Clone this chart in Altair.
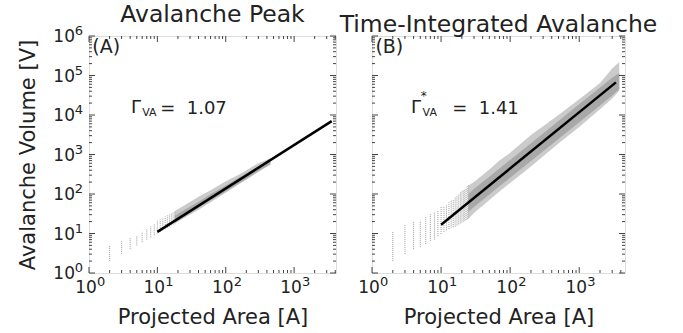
import altair as alt
import pandas as pd

# ---------------- data ----------------
# Panel A: Avalanche Peak
a_col_x = [2, 3, 4, 5, 6, 7, 8, 9, 10, 11, 12, 13, 14, 15, 16, 17, 18]
a_col_lo = [2, 3, 4, 5, 6, 7, 8, 9, 10, 11, 12, 13, 14, 15, 16, 17, 18]
a_col_hi = [5, 6.5, 8, 9, 11, 13, 15, 17, 21, 23, 25, 27, 29, 31, 33, 35, 37]
a_band_x = [18, 25, 40, 60, 100, 150, 200, 300, 450]
a_band_hi = [37, 52, 85, 125, 210, 300, 400, 600, 800]
a_band_lo = [18, 25, 40, 62, 108, 170, 230, 360, 550]
a_core_hi = [28, 40, 64, 98, 165, 250, 330, 500, 700]
a_core_lo = [19, 27, 45, 68, 115, 180, 245, 380, 570]
a_fit_x = [10, 3550]
a_fit_y = [11, 7000]

# Panel B: Time-Integrated Avalanche
b_col_x = [2, 3, 4, 5, 6, 7, 8, 9, 10, 11, 12, 13, 14, 15, 16, 17, 18, 19, 20, 21, 22, 23, 24, 25]
b_col_lo = [2, 3, 4, 4.5, 5.4, 6.5, 7, 8.6, 9.7, 11, 12, 13, 14, 14.5, 15, 16, 17, 18, 19, 20, 21, 22, 23, 24]
b_col_hi = [11, 17, 20, 21, 27, 31, 34, 37, 47, 50, 55, 62, 68, 74, 82, 90, 100, 110, 120, 128, 136, 145, 155, 165]
b_band_x = [25, 30, 50, 70, 100, 200, 300, 500, 1000, 2000, 3000, 3800]
b_band_hi = [165, 200, 420, 700, 1100, 3100, 5200, 10000, 25000, 65000, 150000, 220000]
b_band_lo = [24, 33, 70, 115, 190, 500, 900, 1900, 5000, 14000, 26000, 42000]
b_core_hi = [100, 135, 275, 440, 730, 1940, 3400, 7000, 18700, 50000, 88000, 115000]
b_core_lo = [36, 47, 97, 156, 257, 684, 1210, 2480, 6600, 17500, 31000, 45000]
b_fit_x = [10, 3400]
b_fit_y = [16.7, 67000]

# annotations (data coordinates)
a_ann_text = ["(A)", "Γ", "VA", "=\u00a0\u00a01.07"]
a_ann_x = [1.12, 4.1, 6.0, 11.0]
a_ann_y = [5.2e5, 1.5e4, 1.15e4, 1.45e4]
a_ann_size = [19, 18, 11, 18]
b_ann_text = ["(B)", "Γ", "*", "VA", "=\u00a0\u00a01.41"]
b_ann_x = [1.12, 3.67, 5.1, 5.4, 14.5]
b_ann_y = [5.2e5, 1.5e4, 3.0e4, 1.15e4, 1.45e4]
b_ann_size = [19, 18, 12, 11, 18]

# axis ticks and tick labels
x_major = [1, 10, 100, 1000]
x_minor = [2, 3, 4, 5, 6, 7, 8, 9, 20, 30, 40, 50, 60, 70, 80, 90,
           200, 300, 400, 500, 600, 700, 800, 900, 2000, 3000, 4000]
y_major = [1, 10, 100, 1000, 10000, 100000, 1000000]
y_minor = [m * d for d in [1, 10, 100, 1000, 10000, 100000] for m in [2, 3, 4, 5, 6, 7, 8, 9]]
x_tick_base = ["10", "10", "10", "10"]
x_tick_exp = ["0", "1", "2", "3"]
y_tick_base = ["10", "10", "10", "10", "10", "10", "10"]
y_tick_exp = ["0", "1", "2", "3", "4", "5", "6"]

FONT = "DejaVu Sans"
TXT = "#222222"
FRAME = "#444444"
H = 237
Y_DOM = [1, 1e6]


def panel(width, xdom, cols, band, core, fit, ann, title, title_size, show_y):
    xs = alt.Scale(type="log", domain=xdom, nice=False)
    ys = alt.Scale(type="log", domain=Y_DOM, nice=False)
    xaxis = alt.Axis(labels=False, ticks=False, domain=False, grid=False,
                     title="Projected Area [A]", titleFont=FONT, titleFontSize=21,
                     titleFontWeight="normal", titleColor=TXT, titlePadding=33)
    if show_y:
        yaxis = alt.Axis(labels=False, ticks=False, domain=False, grid=False,
                         title="Avalanche Volume [V]", titleFont=FONT, titleFontSize=21,
                         titleFontWeight="normal", titleColor=TXT, titlePadding=51)
    else:
        yaxis = None

    def X(f):
        return alt.X(f + ":Q", scale=xs, axis=xaxis)

    def Y(f):
        return alt.Y(f + ":Q", scale=ys, axis=yaxis)

    bdf = pd.DataFrame({"x": band[0], "hi": band[1], "lo": band[2]})
    cdf = pd.DataFrame({"x": core[0], "hi": core[1], "lo": core[2]})
    coldf = pd.DataFrame({"x": cols[0], "lo": cols[1], "hi": cols[2]})
    fdf = pd.DataFrame({"x": fit[0], "y": fit[1]})
    adf = pd.DataFrame({"t": ann[0], "x": ann[1], "y": ann[2], "s": ann[3]})

    layers = [
        alt.Chart(bdf).mark_area(color="#cbcbcb").encode(x=X("x"), y=Y("hi"), y2="lo:Q"),
        alt.Chart(cdf).mark_area(color="#a8a8a8").encode(x=X("x"), y=Y("hi"), y2="lo:Q"),
        alt.Chart(coldf).mark_rule(color="#9a9a9a", strokeWidth=1, strokeDash=[1, 1]).encode(
            x=X("x"), y=Y("lo"), y2="hi:Q"),
        alt.Chart(fdf).mark_line(color="black", strokeWidth=2.5).encode(x=X("x"), y=Y("y")),
    ]
    # ticks, drawn inward on all four sides
    for vals, L in [(x_major, 6), (x_minor, 3)]:
        tdf = pd.DataFrame({"v": [v for v in vals if xdom[0] <= v <= xdom[1]]})
        layers.append(alt.Chart(tdf).mark_rule(color=FRAME, strokeWidth=1).encode(
            x=X("v"), y=alt.value(H), y2=alt.value(H - L)))
        layers.append(alt.Chart(tdf).mark_rule(color=FRAME, strokeWidth=1).encode(
            x=X("v"), y=alt.value(0), y2=alt.value(L)))
    for vals, L in [(y_major, 6), (y_minor, 3)]:
        tdf = pd.DataFrame({"v": vals})
        layers.append(alt.Chart(tdf).mark_rule(color=FRAME, strokeWidth=1).encode(
            y=Y("v"), x=alt.value(0), x2=alt.value(L)))
        layers.append(alt.Chart(tdf).mark_rule(color=FRAME, strokeWidth=1).encode(
            y=Y("v"), x=alt.value(width), x2=alt.value(width - L)))

    # tick labels: "10" with a raised exponent
    xl = pd.DataFrame({"v": x_major, "b": x_tick_base, "e": x_tick_exp})
    layers.append(alt.Chart(xl).mark_text(font=FONT, fontSize=17, color=TXT, align="center",
                                          baseline="top", dx=-3).encode(
        x=X("v"), y=alt.value(H + 7), text="b:N"))
    layers.append(alt.Chart(xl).mark_text(font=FONT, fontSize=13, color=TXT, align="left",
                                          baseline="top", dx=8).encode(
        x=X("v"), y=alt.value(H + 3), text="e:N"))
    if show_y:
        yl = pd.DataFrame({"v": y_major, "b": y_tick_base, "e": y_tick_exp})
        layers.append(alt.Chart(yl).mark_text(font=FONT, fontSize=17, color=TXT, align="right",
                                              baseline="middle", dy=1).encode(
            y=Y("v"), x=alt.value(-14), text="b:N"))
        layers.append(alt.Chart(yl).mark_text(font=FONT, fontSize=13, color=TXT, align="right",
                                              baseline="middle", dy=-5).encode(
            y=Y("v"), x=alt.value(-6), text="e:N"))

    layers.append(alt.Chart(adf).mark_text(font=FONT, color=TXT, align="left", baseline="middle").encode(
        x=X("x"), y=Y("y"), text="t:N", size=alt.Size("s:Q", scale=None, legend=None)))

    return alt.layer(*layers).properties(
        width=width, height=H,
        title=alt.TitleParams(title, font=FONT, fontSize=title_size, fontWeight="normal", color=TXT,
                              anchor="middle", offset=-1))


pa = panel(247, [1, 4100], (a_col_x, a_col_lo, a_col_hi), (a_band_x, a_band_hi, a_band_lo),
           (a_band_x, a_core_hi, a_core_lo), (a_fit_x, a_fit_y),
           (a_ann_text, a_ann_x, a_ann_y, a_ann_size), "Avalanche Peak", 23.5, True)
pb = panel(253, [1, 4600], (b_col_x, b_col_lo, b_col_hi), (b_band_x, b_band_hi, b_band_lo),
           (b_band_x, b_core_hi, b_core_lo), (b_fit_x, b_fit_y),
           (b_ann_text, b_ann_x, b_ann_y, b_ann_size), "Time-Integrated Avalanche", 23.5, False)

chart = alt.hconcat(pa, pb, spacing=36, bounds="flush").resolve_scale(
    x="independent", y="independent").configure_view(
    stroke=FRAME, strokeWidth=1).configure(padding={"left": 16, "top": 2, "right": 5, "bottom": 2})

chart.save("out.html", embed_options={"renderer": "svg", "actions": False})
